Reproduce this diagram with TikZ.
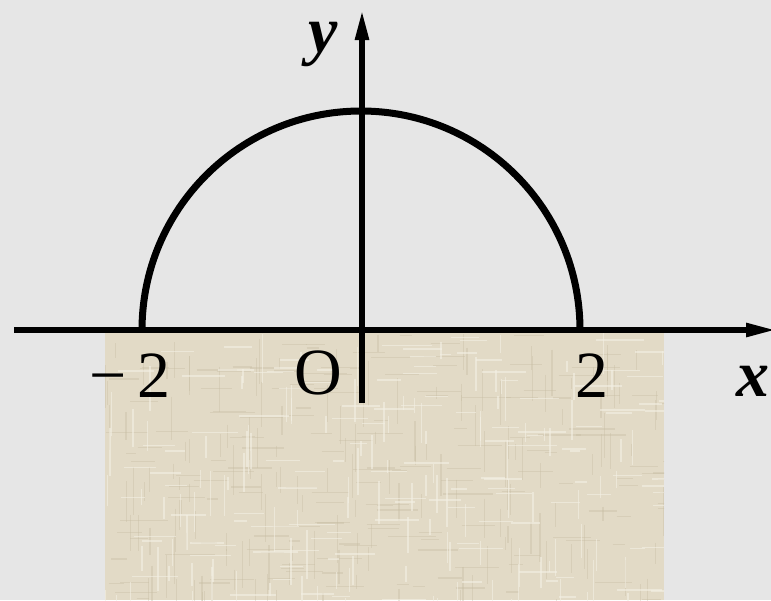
\documentclass[tikz,border=0pt]{standalone}
\usepackage{fontspec}
\setmainfont{Liberation Serif}
\usetikzlibrary{arrows.meta}
\definecolor{bggray}{RGB}{230,230,230}
\definecolor{canvas}{RGB}{226,218,198}
\definecolor{canvasdark}{RGB}{196,186,160}
\definecolor{canvaslight}{RGB}{244,240,228}
\tikzset{
  axis/.style={line width=5.5pt,-{Triangle[length=30pt,width=13pt]}},
  curve/.style={line width=7pt},
  lbl/.style={font=\fontsize{66}{66}\selectfont,inner sep=0pt,anchor=base},
}
\begin{document}
\begin{tikzpicture}[x=1pt,y=-1pt]
\useasboundingbox (0,0) rectangle (771,600);
\fill[bggray] (0,0) rectangle (771,600);
% textured canvas
\fill[canvas] (105,330) rectangle (664,600);
\begin{scope}
\clip (105,330) rectangle (664,600);
\pgfmathsetseed{7}
\foreach \i in {0,...,160}{
  \pgfmathsetmacro{\xx}{105+559*rnd}
  \pgfmathsetmacro{\ya}{330+270*rnd}
  \pgfmathsetmacro{\yb}{\ya+10+40*rnd}
  \draw[canvasdark,opacity=0.35,line width=1.2pt] (\xx,\ya) -- (\xx,\yb);
}
\foreach \i in {0,...,160}{
  \pgfmathsetmacro{\yy}{330+270*rnd}
  \pgfmathsetmacro{\xa}{105+559*rnd}
  \pgfmathsetmacro{\xb}{\xa+10+40*rnd}
  \draw[canvasdark,opacity=0.35,line width=1.2pt] (\xa,\yy) -- (\xb,\yy);
}
\foreach \i in {0,...,120}{
  \pgfmathsetmacro{\xx}{105+559*rnd}
  \pgfmathsetmacro{\ya}{330+270*rnd}
  \pgfmathsetmacro{\yb}{\ya+10+40*rnd}
  \draw[canvaslight,opacity=0.6,line width=1.5pt] (\xx,\ya) -- (\xx,\yb);
}
\foreach \i in {0,...,120}{
  \pgfmathsetmacro{\yy}{330+270*rnd}
  \pgfmathsetmacro{\xa}{105+559*rnd}
  \pgfmathsetmacro{\xb}{\xa+10+40*rnd}
  \draw[canvaslight,opacity=0.6,line width=1.5pt] (\xa,\yy) -- (\xb,\yy);
}
\end{scope}
% coordinates
\coordinate (O) at (362,330);
\coordinate (xs) at (14,330);
\coordinate (xe) at (776,330);
\coordinate (ys) at (362,403);
\coordinate (ye) at (362,10);
\coordinate (L) at (142,330);
% semicircle (upper half)
\draw[curve] (L) arc[start angle=180,end angle=360,radius=219];
% axes
\draw[axis] (xs) -- (xe);
\draw[axis] (ys) -- (ye);
% labels
\node[lbl] (ylab) at (323,52) {\textbf{\textit{y}}};
\node[lbl] (xlab) at (753,396) {\textbf{\textit{x}}};
\node[lbl] (olab) at (318,394) {O};
\node[lbl] (m2) at (130,397) {−\,2};
\node[lbl] (p2) at (592,397) {2};
\end{tikzpicture}
\end{document}
